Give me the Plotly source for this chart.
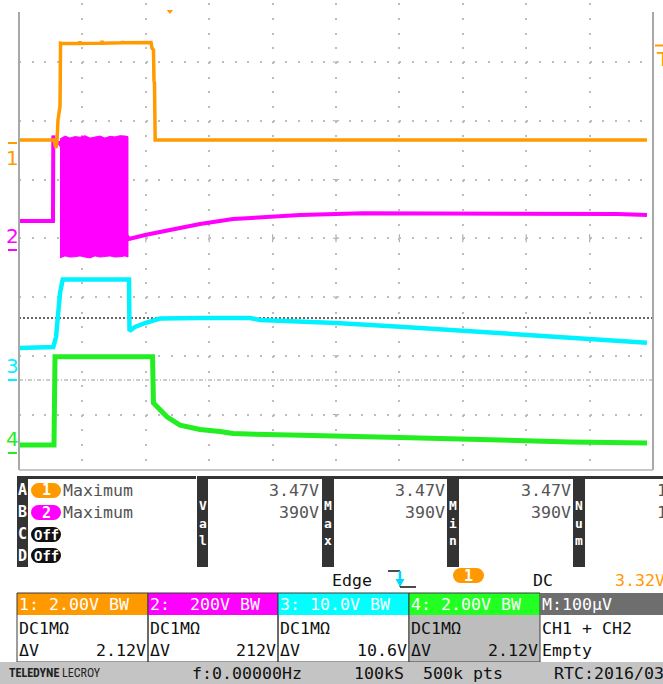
import plotly.graph_objects as go

W, H = 663, 684
MONO = "DejaVu Sans Mono"

# ---------------- waveform data (time in divisions, amplitude in volts) ----------------
# Channel 1 (orange)
ch1_t = [0.000, 0.552, 0.584, 0.599, 0.615, 0.647, 0.655, 0.678, 0.95, 0.96, 0.97, 1.30, 1.31, 1.32,
         1.62, 1.63, 1.64, 2.082, 2.098, 2.121, 2.129, 2.137, 2.148, 9.905]
ch1_v = [0.10, 0.10, -0.17, 0.07, 0.78, 1.26, 3.40, 3.39, 3.39, 3.45, 3.39, 3.40, 3.47, 3.40,
         3.41, 3.46, 3.41, 3.42, 3.23, 3.17, 2.14, 2.01, 0.10, 0.10]

# Channel 2 (magenta) - slow part
ch2_t = [0.000, 0.536, 0.541, 0.552, 0.639, 1.735, 1.987, 2.224, 2.539, 2.855, 3.375, 3.959, 4.432, 5.426, 9.054, 9.432, 9.905]
ch2_v = [98.7, 98.7, 390.0, 364.0, 364.0, 37.4, 51.1, 61.3, 74.9, 88.5, 105.5, 114.0, 119.1, 124.9, 124.9, 122.6, 119.1]
# Channel 2 - envelope of the switching burst
burst_t = [0.647, 0.726, 0.804, 0.883, 0.962, 1.041, 1.120, 1.199, 1.278, 1.357, 1.435, 1.514, 1.593, 1.672, 1.719]
burst_hi = [378, 388, 381, 386, 384, 389, 381, 385, 388, 381, 387, 385, 389, 388, 386]
burst_lo = [-27, -20, -24, -23, -20, -24, -27, -20, -24, -23, -20, -24, -23, -20, -24]

# Channel 3 (cyan)
ch3_t = [0.000, 0.536, 0.541, 0.584, 0.615, 0.647, 0.689, 1.735, 1.743, 1.830, 1.987, 2.224, 2.855, 3.644, 3.801, 5.000, 6.010, 6.956, 8.060, 9.164, 9.905]
ch3_v = [5.45, 5.45, 5.62, 7.32, 11.40, 14.81, 17.10, 17.10, 8.34, 9.02, 9.70, 10.47, 10.55, 10.55, 10.21, 9.70, 9.07, 8.39, 7.66, 6.98, 6.35]

# Channel 4 (green)
ch4_t = [0.000, 0.552, 0.568, 2.106, 2.121, 2.224, 2.334, 2.539, 2.697, 2.855, 3.170, 3.375, 4.274, 5.221, 6.010, 6.956, 8.060, 8.691, 9.905]
ch4_v = [0.27, 0.27, 3.28, 3.28, 1.70, 1.46, 1.23, 0.95, 0.87, 0.80, 0.73, 0.66, 0.61, 0.58, 0.53, 0.48, 0.41, 0.37, 0.34]

# vertical setup: volts per division and position of 0 V (divisions above screen centre)
volts_per_div = {"1": 2.0, "2": 200.0, "3": 10.0, "4": 2.0}
zero_div = {"1": 1.621, "2": -0.200, "3": -2.413, "4": -3.655}
chan_color = {"1": "#ff9a00", "2": "#ff00ff", "3": "#00f2ff", "4": "#22ee22"}
chan_axis = {"2": "y2", "3": "y3", "4": "y4", "1": "y5"}

# trigger / cursor settings
trig_level = 3.32        # V on channel 1
trig_time = 2.38         # div
cursor_div = -1.357      # horizontal cursor (div from centre)

# channel header boxes
chan_labels = ["1: 2.00V BW", "2:  200V BW", "3: 10.0V BW", "4: 2.00V BW"]
chan_coupling = ["DC1MΩ", "DC1MΩ", "DC1MΩ", "DC1MΩ"]
chan_dv = ["2.12V", "212V", "10.6V", "2.12V"]
header_bg = ["#ff9900", "#ff00ff", "#00ffff", "#22ff22"]

meas_val1 = max(ch1_v)
meas_val2 = max(ch2_v + burst_hi)


def yr(ch):
    s, o = volts_per_div[ch], zero_div[ch]
    return [(-4 - o) * s, (4 - o) * s]


fig = go.Figure()

# horizontal cursor on the division axis
fig.add_trace(go.Scatter(x=[0, 10], y=[cursor_div, cursor_div], mode="lines",
                         line=dict(color="#333333", width=1.5, dash="2px,2px"),
                         xaxis="x", yaxis="y", hoverinfo="skip"))

# channel 2
fig.add_trace(go.Scatter(x=ch2_t, y=ch2_v, mode="lines", yaxis="y2",
                         line=dict(color=chan_color["2"], width=4), hoverinfo="skip"))
fig.add_trace(go.Scatter(x=burst_t + burst_t[::-1], y=burst_hi + burst_lo[::-1], mode="lines",
                         fill="toself", fillcolor=chan_color["2"], yaxis="y2",
                         line=dict(color=chan_color["2"], width=1), hoverinfo="skip"))
# channel 3
fig.add_trace(go.Scatter(x=ch3_t, y=ch3_v, mode="lines", yaxis="y3",
                         line=dict(color=chan_color["3"], width=4.5), hoverinfo="skip"))
# channel 4
fig.add_trace(go.Scatter(x=ch4_t, y=ch4_v, mode="lines", yaxis="y4",
                         line=dict(color=chan_color["4"], width=5), hoverinfo="skip"))
# channel 1
fig.add_trace(go.Scatter(x=ch1_t, y=ch1_v, mode="lines", yaxis="y5",
                         line=dict(color=chan_color["1"], width=3.5), hoverinfo="skip"))

shapes = []
annotations = []


def px(x):
    return x / W


def py(y):
    return 1 - y / H


def rect(x0, y0, x1, y1, fill, line=None, lw=0):
    shapes.append(dict(type="rect", xref="paper", yref="paper", x0=px(x0), x1=px(x1),
                       y0=py(y1), y1=py(y0), fillcolor=fill, layer="above",
                       line=dict(width=lw, color=line or fill)))


def seg(x0, y0, x1, y1, color, w=1, dash="solid"):
    shapes.append(dict(type="line", xref="paper", yref="paper", x0=px(x0), x1=px(x1),
                       y0=py(y0), y1=py(y1), layer="above",
                       line=dict(color=color, width=w, dash=dash)))


def pill(x0, y0, x1, y1, fill):
    r = (y1 - y0) / 2
    rect(x0 + r, y0, x1 - r, y1, fill)
    for cx0 in (x0, x1 - 2 * r):
        shapes.append(dict(type="circle", xref="paper", yref="paper", x0=px(cx0), x1=px(cx0 + 2 * r),
                           y0=py(y1), y1=py(y0), fillcolor=fill, layer="above",
                           line=dict(width=0, color=fill)))


def txt(s, x, y, size=16.6, color="#111111", anchor="left", bold=False, family=MONO):
    s = s.replace(" ", "\u00a0")
    if bold:
        s = "<b>" + s + "</b>"
    annotations.append(dict(text=s, x=px(x), y=py(y), xref="paper", yref="paper",
                            xanchor=anchor, yanchor="middle", showarrow=False, borderpad=0,
                            font=dict(family=family, size=size, color=color)))


# ---------- screen frame ----------
seg(19, 12, 19, 470, "#a8a8a8", 2)
seg(653, 12, 653, 470, "#a8a8a8", 2)
seg(19, 470, 653, 470, "#b4b4b4", 1.5)
# centre graticule ticks
for k in range(1, 10):
    shapes.append(dict(type="line", xref="x", yref="y", x0=k, x1=k, y0=-0.07, y1=0.07,
                       line=dict(color="#b0b0b0", width=1.2), layer="below"))
for j in range(-3, 4):
    shapes.append(dict(type="line", xref="x", yref="y", x0=4.95, x1=5.05, y0=j, y1=j,
                       line=dict(color="#b0b0b0", width=1.2), layer="below"))
# channel 3 reference line
shapes.append(dict(type="line", xref="x", yref="y3", x0=0, x1=10, y0=0, y1=0, layer="below",
                   line=dict(color="#9a9a9a", width=1.2, dash="4px,2px,1px,2px")))

# channel ground markers on the left
for ch in ["1", "2", "3", "4"]:
    ax = chan_axis[ch]
    shapes.append(dict(type="line", xref="paper", yref=ax, x0=px(8), x1=px(17), y0=0, y1=0,
                       line=dict(color=chan_color[ch], width=2)))
    annotations.append(dict(text=ch, x=px(12.5), y=0, xref="paper", yref=ax, xanchor="center",
                            yanchor="middle", yshift=(-15 if ch == "1" else 14), showarrow=False,
                            font=dict(family="DejaVu Sans", size=20, color=chan_color[ch])))

# trigger level marker (right) and trigger time marker (top)
shapes.append(dict(type="line", xref="paper", yref="y5", x0=px(655), x1=px(663),
                   y0=trig_level, y1=trig_level, line=dict(color=chan_color["1"], width=2)))
annotations.append(dict(text="T", x=px(654), y=trig_level, xref="paper", yref="y5", xanchor="left",
                        yanchor="middle", yshift=-14, showarrow=False,
                        font=dict(family="DejaVu Sans", size=20, color=chan_color["1"])))
shapes.append(dict(type="path", xref="x", yref="paper",
                   path=f"M {trig_time - 0.05},{py(10)} L {trig_time + 0.05},{py(10)} L {trig_time},{py(14)} Z",
                   fillcolor=chan_color["1"], line=dict(width=0)))

# ---------- measurement table ----------
DARK = "#333333"
GREY_TXT = "#555555"
rect(17, 476, 28, 567, DARK)
for letter, yy in zip("ABCD", [490, 512, 534, 556]):
    txt(letter, 22.5, yy, 15, "white", "center", True)
for x0, x1 in [(28, 196), (208, 322), (334, 447), (459, 573), (585, 663)]:
    seg(x0, 477.5, x1, 477.5, DARK, 3)
bar_cols = [(197, 208, "Val"), (322, 334, "Max"), (447, 459, "Min"), (573, 585, "Num")]
for x0, x1, word in bar_cols:
    rect(x0, 476, x1, 567, DARK)
    for ch, yy in zip(word, [505, 523, 540]):
        txt(ch, (x0 + x1) / 2, yy, 13, "white", "center", True)

pill(31, 483, 61, 498, "#ff9900")
txt("1", 46, 490.5, 15, "white", "center", True)
pill(31, 505, 61, 520, "#ff00ff")
txt("2", 46, 512.5, 15, "white", "center", True)
pill(31, 527, 61, 542, "#111111")
txt("Off", 46, 534.5, 14, "white", "center", True)
pill(31, 548, 61, 563, "#111111")
txt("Off", 46, 555.5, 14, "white", "center", True)
txt("Maximum", 62, 490, color=GREY_TXT)
txt("Maximum", 62, 512, color=GREY_TXT)
for xr in (320, 446, 572):
    txt(f"{meas_val1:.2f}V", xr, 490, color=GREY_TXT, anchor="right")
    txt(f"{meas_val2:.0f}V", xr, 512, color=GREY_TXT, anchor="right")
txt("1", 656, 490, color=GREY_TXT)
txt("1", 656, 512, color=GREY_TXT)

# ---------- trigger line ----------
txt("Edge", 331, 580)
seg(388, 571, 400, 571, "#111111", 1.5)
seg(400, 571, 400, 587, "#111111", 1)
seg(400, 587, 416, 587, "#111111", 1.5)
seg(400, 571, 400, 581, "#00d8ff", 2.5)
shapes.append(dict(type="path", xref="paper", yref="paper",
                   path=f"M {px(395.5)},{py(579)} L {px(404.5)},{py(579)} L {px(400)},{py(587)} Z",
                   fillcolor="#00d8ff", line=dict(width=0)))
pill(453, 568, 484, 583, "#ff9900")
txt("1", 468.5, 575.5, 15, "white", "center", True)
txt("DC", 532, 580)
txt(f"{trig_level:.2f}V", 614, 580, color="#ff9900")

# ---------- channel boxes ----------
box_x = [17, 148, 278, 409, 540]
for i in range(4):
    x0, x1 = box_x[i], box_x[i + 1]
    if i == 3:
        rect(x0, 615, x1, 662, "#bdbdbd")
    rect(x0, 593, x1, 615, header_bg[i])
    rect(x0, 593, x1, 662, "rgba(0,0,0,0)", "#3a3a3a", 1)
    txt(chan_labels[i], x0 + 1, 604, color="white")
    txt(chan_coupling[i], x0 + 1, 628)
    txt("ΔV", x0 + 1, 650)
    txt(chan_dv[i], x1 - 1, 650, anchor="right")
rect(540, 593, 663, 615, "#6e6e6e")
txt("M:100µV", 541, 604, color="white")
txt("CH1 + CH2", 541, 628)
txt("Empty", 541, 650)

# ---------- status bar ----------
rect(0, 662, 663, 684, "#c4c4c4")
annotations.append(dict(text="<b>TELEDYNE</b> LECROY", x=px(8), y=py(673), xref="paper", yref="paper",
                        xanchor="left", yanchor="middle", showarrow=False, borderpad=0,
                        font=dict(family="Liberation Sans Narrow, Roboto Condensed, Roboto", size=12,
                                  color="#222222")))
txt("f:0.00000Hz", 191, 673)
txt("100kS", 353, 673)
txt("500k pts", 422, 673)
txt("RTC:2016/03", 553, 673)

axis_common = dict(showticklabels=False, ticks="", zeroline=False, showline=False, fixedrange=True)
layout = dict(
    width=W, height=H, margin=dict(l=0, r=0, t=0, b=0),
    paper_bgcolor="white", plot_bgcolor="white", showlegend=False,
    xaxis=dict(range=[0, 10], domain=[19 / W, 653 / W], showgrid=True, dtick=1, tick0=0,
               gridcolor="#bdbdbd", gridwidth=2, griddash="2px,12.69px", **axis_common),
    yaxis=dict(range=[-4, 4], domain=[1 - 473.25 / H, 1 - 3.25 / H], showgrid=True, dtick=1, tick0=0,
               gridcolor="#bdbdbd", gridwidth=2, griddash="2px,10.68px", **axis_common),
    shapes=shapes, annotations=annotations,
)
for ch, ax in chan_axis.items():
    key = "yaxis" + ax[1:]
    layout[key] = dict(overlaying="y", range=yr(ch), visible=False, fixedrange=True)

fig.update_layout(**layout)
fig.write_html("out.html", config={"displayModeBar": False})
